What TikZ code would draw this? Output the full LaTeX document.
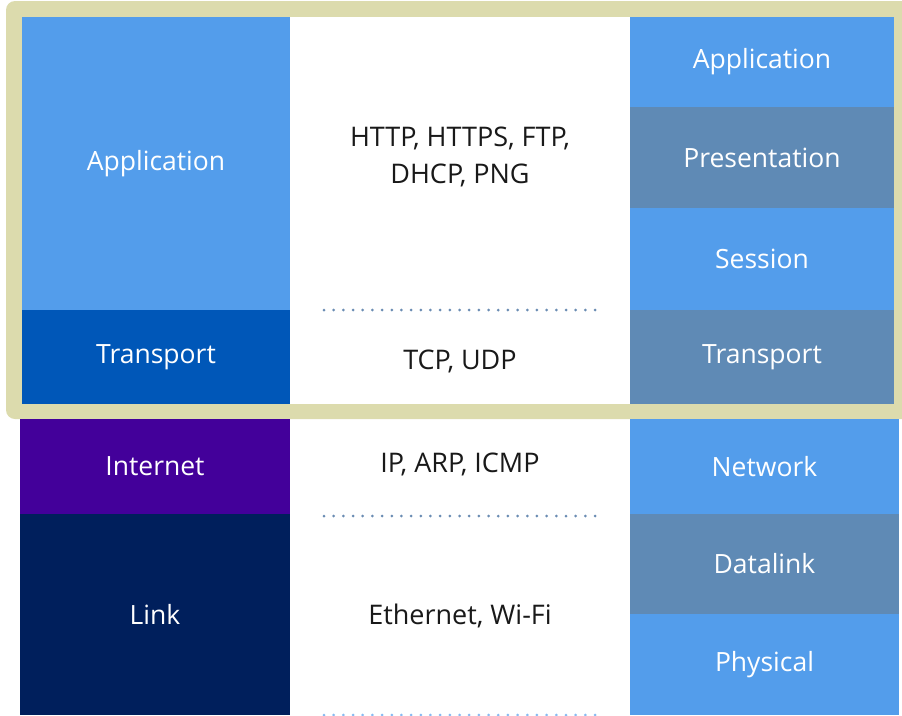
\documentclass[tikz,border=0pt]{standalone}
\usepackage{fontspec}
\setmainfont{Open Sans}
\usepackage{tikz}
\usetikzlibrary{positioning}

\definecolor{appblue}{RGB}{83,157,235}
\definecolor{tcpblue}{RGB}{0,87,184}
\definecolor{greyblue}{RGB}{95,138,181}
\definecolor{netpurple}{RGB}{67,0,154}
\definecolor{linknavy}{RGB}{0,31,92}
\definecolor{framebeige}{RGB}{220,219,173}
\definecolor{dotblue}{RGB}{106,140,179}

\begin{document}
\begin{tikzpicture}[x=1pt,y=-1pt,
  layer/.style={anchor=north west, inner sep=0pt, outer sep=0pt, text=white,
    font=\fontsize{26.5}{30}\selectfont},
  proto/.style={text=black!90, align=center, font=\fontsize{27}{37}\selectfont},
  dots/.style={dotblue, line width=3pt, line cap=round, dash pattern=on 0pt off 9.68pt}]
  \useasboundingbox (0,0) rectangle (902,715);
  \clip (0,0) rectangle (902,715);
  % tcp/ip frame
  \fill[framebeige, rounded corners=9pt] (6,1) rectangle (930,419);
  \node[anchor=north west, inner sep=0pt, fill=white, minimum width=340pt, minimum height=387pt] (mid) at (290,17) {};
  % tcp/ip model (left)
  \node[layer, fill=appblue, minimum width=268pt, minimum height=293pt] (tapp) at (22,17) {Application};
  \node[layer, fill=tcpblue, minimum width=268pt, minimum height=94pt, below=0pt of tapp.south west, anchor=north west] (ttrans) {Transport};
  \node[layer, fill=netpurple, minimum width=270pt, minimum height=95pt] (tnet) at (20,419) {Internet};
  \node[layer, fill=linknavy, minimum width=270pt, minimum height=201pt, below=0pt of tnet.south west, anchor=north west] (tlink) {Link};
  % osi model (right)
  \node[layer, fill=appblue, minimum width=264pt, minimum height=90pt] (oapp) at (630,17) {Application};
  \node[layer, fill=greyblue, minimum width=264pt, minimum height=101pt, below=0pt of oapp.south west, anchor=north west] (opres) {Presentation};
  \node[layer, fill=appblue, minimum width=264pt, minimum height=102pt, below=0pt of opres.south west, anchor=north west] (osess) {Session};
  \node[layer, fill=greyblue, minimum width=264pt, minimum height=94pt, below=0pt of osess.south west, anchor=north west] (otrans) {Transport};
  \node[layer, fill=appblue, minimum width=269pt, minimum height=95pt] (onet) at (630,419) {Network};
  \node[layer, fill=greyblue, minimum width=269pt, minimum height=100pt, below=0pt of onet.south west, anchor=north west] (odata) {Datalink};
  \node[layer, fill=appblue, minimum width=269pt, minimum height=101pt, below=0pt of odata.south west, anchor=north west] (ophys) {Physical};
  % protocols
  \node[proto] (papp) at (460,157) {HTTP, HTTPS, FTP,\\DHCP, PNG};
  \node[proto] (ptrans) at (460,361) {TCP, UDP};
  \node[proto] (pnet) at (460,464) {IP, ARP, ICMP};
  \node[proto] (plink) at (460,616) {Ethernet, Wi-Fi};
  \draw[dots] (324,310) -- (600,310);
  \draw[dots] (324,516) -- (600,516);
  \draw[dots, appblue!70] (324,715) -- (600,715);
\end{tikzpicture}
\end{document}
